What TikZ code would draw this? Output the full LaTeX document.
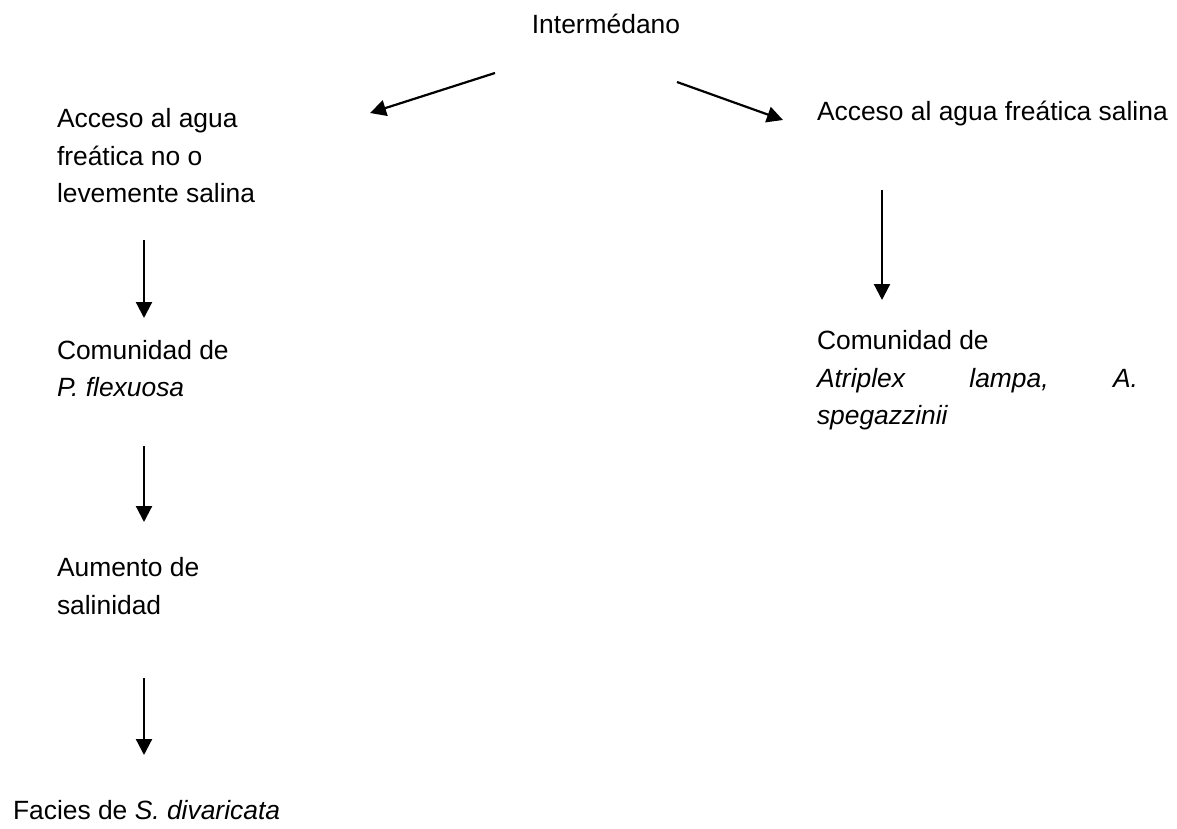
\documentclass[tikz,border=0pt]{standalone}
\usepackage{fontspec}
\setmainfont{Liberation Sans}
\usetikzlibrary{arrows.meta}
\begin{document}
\begin{tikzpicture}[x=1pt,y=-1pt,
  txt/.style={anchor=base west,inner sep=0pt,outer sep=0pt,font=\fontsize{26.4}{37.5}\selectfont},
  arr/.style={line width=2.2pt,-{Triangle[length=16pt,width=16pt]}}]
\useasboundingbox (0,0) rectangle (1177,829);
% top
\node[txt,anchor=base] (inter) at (606,34) {Intermédano};
% right column
\node[txt] (racc) at (817,121) {Acceso al agua freática salina};
\node[txt] (rcom) at (817,349) {Comunidad de};
\node[txt] (ratr) at (817,387) {\hbox to 321pt{\itshape Atriplex\hfill lampa,\hfill A.}};
\node[txt] (rspe) at (817,424) {\itshape spegazzinii};
% left column
\node[txt] (lacc1) at (57,128) {Acceso al agua};
\node[txt] (lacc2) at (57,165.5) {freática no o};
\node[txt] (lacc3) at (57,203) {levemente salina};
\node[txt] (lcom1) at (57,359) {Comunidad de};
\node[txt] (lcom2) at (57,396) {\itshape P. flexuosa};
\node[txt] (laum1) at (57,576) {Aumento de};
\node[txt] (laum2) at (57,614) {salinidad};
\node[txt] (lfac) at (13,819) {Facies de \textit{S. divaricata}};
% arrow ends
\coordinate (a1s) at (495,73);  \coordinate (a1e) at (370,113);
\coordinate (a2s) at (677,82);  \coordinate (a2e) at (783,120);
\coordinate (a3s) at (882,190); \coordinate (a3e) at (882,300);
\coordinate (a4s) at (144,240); \coordinate (a4e) at (144,318);
\coordinate (a5s) at (144,446); \coordinate (a5e) at (144,522);
\coordinate (a6s) at (144,678); \coordinate (a6e) at (144,755);
\draw[arr] (a1s) -- (a1e);
\draw[arr] (a2s) -- (a2e);
\draw[arr] (a3s) -- (a3e);
\draw[arr] (a4s) -- (a4e);
\draw[arr] (a5s) -- (a5e);
\draw[arr] (a6s) -- (a6e);
\end{tikzpicture}
\end{document}
